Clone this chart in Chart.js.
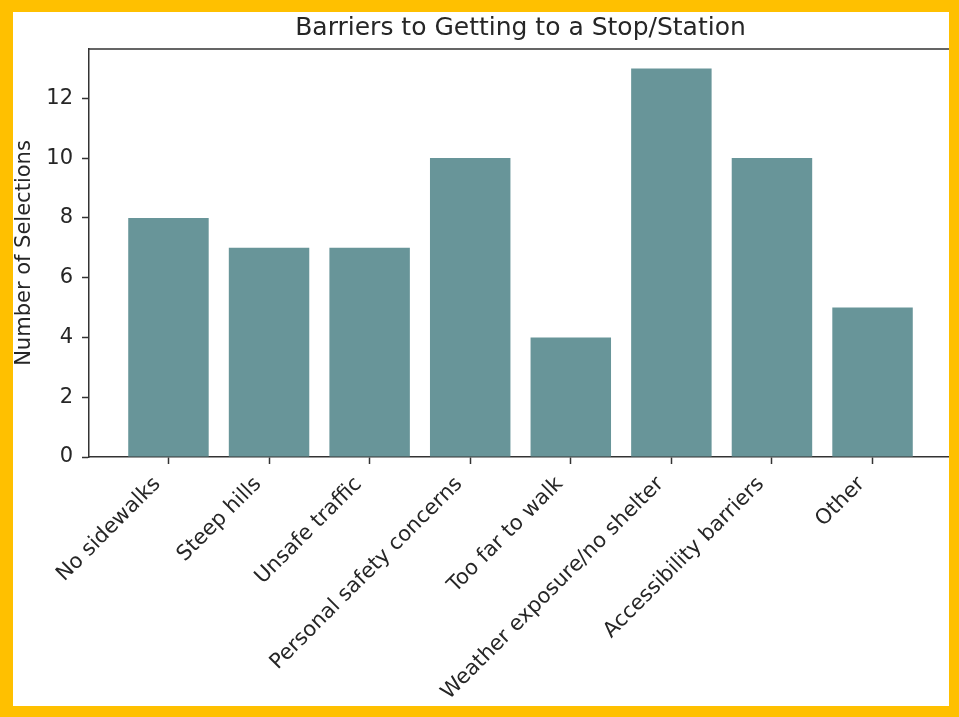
<!DOCTYPE html>
<html>
<head>
<meta charset="utf-8">
<script src="https://cdn.jsdelivr.net/npm/chart.js@4.4.1/dist/chart.umd.min.js"></script>
<style>
  html, body { margin: 0; padding: 0; background: #ffffff; }
  #wrap { width: 959px; height: 717px; position: relative; }
</style>
</head>
<body>
<div id="wrap"><canvas id="c" width="959" height="717"></canvas></div>
<script>
// Survey responses: barriers to getting to a stop/station
const categories = [
  'No sidewalks',
  'Steep hills',
  'Unsafe traffic',
  'Personal safety concerns',
  'Too far to walk',
  'Weather exposure/no shelter',
  'Accessibility barriers',
  'Other'
];
const selections = [8, 7, 7, 10, 4, 13, 10, 5];
const yTickValues = [0, 2, 4, 6, 8, 10, 12];

const FONT = "'DejaVu Sans', sans-serif";
const INK = '#262626';
const AXIS = '#333333';
const BAR = '#689599';
const FRAME = '#FFC000';

// Frame around the figure and the top spine of the axes
const decorations = {
  id: 'decorations',
  beforeDraw(chart) {
    const ctx = chart.ctx;
    ctx.save();
    ctx.fillStyle = '#ffffff';
    ctx.fillRect(0, 0, chart.width, chart.height);
    ctx.restore();
  },
  afterDraw(chart) {
    const ctx = chart.ctx;
    const a = chart.chartArea;
    ctx.save();
    ctx.strokeStyle = AXIS;
    ctx.lineWidth = 1.5;
    ctx.beginPath();
    ctx.moveTo(a.left, a.top);
    ctx.lineTo(a.right, a.top);
    ctx.lineTo(a.right, a.bottom);
    ctx.stroke();
    ctx.fillStyle = FRAME;
    const W = chart.width, H = chart.height;
    ctx.fillRect(0, 0, W, 12);
    ctx.fillRect(0, 0, 13, H);
    ctx.fillRect(949, 0, W - 949, H);
    ctx.fillRect(0, 706, W, H - 706);
    ctx.restore();
  }
};

new Chart(document.getElementById('c'), {
  type: 'bar',
  data: {
    datasets: [{
      data: selections.map((v, i) => ({ x: i, y: v })),
      backgroundColor: BAR,
      borderWidth: 0,
      barPercentage: 0.8,
      categoryPercentage: 1.0
    }]
  },
  options: {
    responsive: false,
    animation: false,
    events: [],
    layout: { padding: { left: 0, right: 7, top: 0, bottom: 0 } },
    plugins: {
      legend: { display: false },
      tooltip: { enabled: false },
      title: {
        display: true,
        text: 'Barriers to Getting to a Stop/Station',
        fullSize: false,
        color: INK,
        font: { family: FONT, size: 25, weight: 'normal' },
        padding: { top: 13, bottom: 6 }
      }
    },
    scales: {
      x: {
        type: 'linear',
        min: -0.79,
        max: 7.79,
        offset: false,
        afterBuildTicks(scale) {
          scale.ticks = categories.map((_, i) => ({ value: i }));
        },
        afterFit(scale) { scale.height = 260; },
        ticks: {
          autoSkip: false,
          minRotation: 45,
          maxRotation: 45,
          padding: 8,
          labelOffset: -11,
          color: INK,
          font: { family: FONT, size: 21 },
          callback: (v) => categories[v] ?? ''
        },
        grid: {
          display: true,
          offset: false,
          drawOnChartArea: false,
          drawTicks: true,
          tickLength: 7,
          tickColor: AXIS,
          tickWidth: 1.5
        },
        border: { display: true, color: AXIS, width: 1.5 }
      },
      y: {
        min: 0,
        max: 13.65,
        afterBuildTicks(scale) {
          scale.ticks = yTickValues.map(v => ({ value: v }));
        },
        afterFit(scale) { scale.width = 89; },
        ticks: {
          padding: 9,
          color: INK,
          font: { family: FONT, size: 21 }
        },
        grid: {
          display: true,
          drawOnChartArea: false,
          drawTicks: true,
          tickLength: 7,
          tickColor: AXIS,
          tickWidth: 1.5
        },
        border: { display: true, color: AXIS, width: 1.5 },
        title: {
          display: true,
          text: 'Number of Selections',
          color: INK,
          font: { family: FONT, size: 21 },
          padding: { top: 12, bottom: 0 }
        }
      }
    }
  },
  plugins: [decorations]
});
</script>
</body>
</html>
